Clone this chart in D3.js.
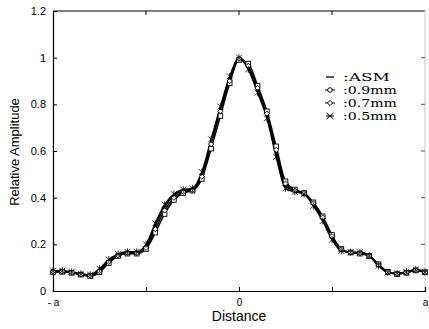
<!DOCTYPE html>
<meta charset="utf-8">
<script src="https://d3js.org/d3.v7.min.js"></script>
<style>
  body { margin: 0; background: #fff; }
  .tick text { font-family: "Liberation Sans", Arial, sans-serif; font-size: 11px; fill: #000; }
  .legend text { font-family: "DejaVu Serif", "Liberation Serif", serif; font-size: 11px; }
</style>
<body>
<div id="my_dataviz"></div>
<script>
// distance in units of a
var xs = [-1.0, -0.95, -0.9, -0.85, -0.8, -0.75, -0.7, -0.65, -0.6, -0.55, -0.5,
          -0.45, -0.4, -0.35, -0.3, -0.25, -0.2, -0.15, -0.1, -0.05, 0,
          0.05, 0.1, 0.15, 0.2, 0.25, 0.3, 0.35, 0.4, 0.45, 0.5,
          0.55, 0.6, 0.65, 0.7, 0.75, 0.8, 0.85, 0.9, 0.95, 1.0];
var asm   = [0.085, 0.085, 0.08, 0.072, 0.068, 0.09, 0.13, 0.155, 0.165, 0.165, 0.19,
             0.28, 0.36, 0.41, 0.43, 0.435, 0.50, 0.64, 0.78, 0.91, 1.0,
             0.96, 0.86, 0.75, 0.59, 0.45, 0.43, 0.42, 0.37, 0.31, 0.23,
             0.175, 0.165, 0.165, 0.15, 0.11, 0.08, 0.075, 0.08, 0.09, 0.08];
var mm09  = [0.08, 0.082, 0.078, 0.07, 0.064, 0.08, 0.12, 0.15, 0.16, 0.16, 0.18,
             0.25, 0.33, 0.39, 0.42, 0.43, 0.48, 0.61, 0.75, 0.89, 0.99,
             0.975, 0.88, 0.77, 0.62, 0.47, 0.435, 0.42, 0.38, 0.32, 0.24,
             0.18, 0.165, 0.16, 0.15, 0.115, 0.082, 0.072, 0.078, 0.088, 0.08];
var mm07  = [0.083, 0.084, 0.079, 0.071, 0.066, 0.085, 0.125, 0.152, 0.163, 0.162, 0.185,
             0.265, 0.345, 0.4, 0.425, 0.432, 0.49, 0.63, 0.77, 0.9, 0.995,
             0.965, 0.87, 0.76, 0.605, 0.46, 0.43, 0.42, 0.375, 0.315, 0.235,
             0.178, 0.165, 0.162, 0.15, 0.112, 0.081, 0.074, 0.079, 0.089, 0.08];
var mm05  = [0.087, 0.087, 0.082, 0.074, 0.07, 0.095, 0.135, 0.158, 0.168, 0.168, 0.2,
             0.29, 0.37, 0.415, 0.435, 0.44, 0.51, 0.65, 0.79, 0.92, 1.0,
             0.95, 0.85, 0.74, 0.575, 0.44, 0.425, 0.415, 0.365, 0.3, 0.22,
             0.172, 0.166, 0.166, 0.152, 0.108, 0.079, 0.076, 0.082, 0.092, 0.082];
var yTicks = [0, 0.2, 0.4, 0.6, 0.8, 1, 1.2];
var xTicks = [-1, -0.5, 0, 0.5, 1];
var xTickLabels = ["- a", "", "0", "", "a"];
var legendLabels = [":ASM", ":0.9mm", ":0.7mm", ":0.5mm"];

var W = 429, H = 329;
var svg = d3.select("#my_dataviz").append("svg").attr("width", W).attr("height", H);

var x = d3.scaleLinear().domain([-1, 1]).range([53, 425]);
var y = d3.scaleLinear().domain([0, 1.2]).range([291, 11]);

// frame
svg.append("line").attr("x1", 53).attr("x2", 425).attr("y1", 11).attr("y2", 11).attr("stroke", "#000").attr("stroke-width", 1.2);
svg.append("line").attr("x1", 425).attr("x2", 425).attr("y1", 11).attr("y2", 291).attr("stroke", "#bbb").attr("stroke-width", 0.8);

var yAxis = svg.append("g").attr("transform", "translate(53,0)")
  .call(d3.axisLeft(y).tickValues(yTicks).tickSize(-4).tickPadding(7)
    .tickFormat(function(d) { return d === 0 ? "0" : d === 1 ? "1" : d3.format(".1f")(d); }));
yAxis.select(".domain").attr("stroke-width", 1.2);

var xAxis = svg.append("g").attr("transform", "translate(0,291)")
  .call(d3.axisBottom(x).tickValues(xTicks).tickSize(-4).tickPadding(8)
    .tickFormat(function(d, i) { return xTickLabels[i]; }));
xAxis.select(".domain").attr("stroke-width", 1.2);
xAxis.selectAll(".tick text").style("font-size", "10px");

// top and right ticks
svg.selectAll(".ttick").data(xTicks.slice(1, 4)).enter().append("line")
  .attr("x1", d => x(d)).attr("x2", d => x(d)).attr("y1", 11).attr("y2", 15).attr("stroke", "#000");
svg.selectAll(".rtick").data(yTicks.slice(1, 6)).enter().append("line")
  .attr("x1", 421).attr("x2", 425).attr("y1", d => y(d)).attr("y2", d => y(d)).attr("stroke", "#555");

// labels
svg.append("text").attr("transform", "translate(19,152) rotate(-90)")
  .attr("text-anchor", "middle").style("font-family", "Liberation Sans, Arial, sans-serif").style("font-size", "13px")
  .text("Relative Amplitude");
svg.append("text").attr("x", 239).attr("y", 321).attr("text-anchor", "middle")
  .style("font-family", "Liberation Sans, Arial, sans-serif").style("font-size", "14px")
  .text("Distance");

function pts(s) { return xs.map((v, i) => [v, s[i]]); }
var line = d3.line().x(d => x(d[0])).y(d => y(d[1])).curve(d3.curveMonotoneX);
[asm, mm09, mm07, mm05].forEach(function(s) {
  svg.append("path").datum(pts(s)).attr("d", line).attr("fill", "none")
    .attr("stroke", "#000").attr("stroke-width", 1.5);
});

// 0.9mm squares
svg.selectAll(".sq").data(pts(mm09)).enter().append("rect")
  .attr("x", d => x(d[0]) - 2.3).attr("y", d => y(d[1]) - 2.3).attr("width", 4.6).attr("height", 4.6)
  .attr("fill", "#fff").attr("stroke", "#000").attr("stroke-width", 0.9);
// 0.7mm diamonds
svg.selectAll(".dm").data(pts(mm07)).enter().append("path")
  .attr("transform", d => "translate(" + x(d[0]) + "," + y(d[1]) + ")")
  .attr("d", "M0,-2.6L2.6,0L0,2.6L-2.6,0Z").attr("fill", "#fff").attr("stroke", "#000").attr("stroke-width", 0.9);
// 0.5mm stars
svg.selectAll(".st").data(pts(mm05)).enter().append("path")
  .attr("transform", d => "translate(" + x(d[0]) + "," + y(d[1]) + ")")
  .attr("d", "M-3,-3L3,3M-3,3L3,-3M0,-3.5L0,3.5").attr("stroke", "#000").attr("stroke-width", 0.8);

// legend
var lg = svg.append("g").attr("class", "legend");
var ly = [77, 90, 103, 116];
var lw = [47, 54, 54, 54];
legendLabels.forEach(function(t, i) {
  var g = lg.append("g").attr("transform", "translate(330," + ly[i] + ")");
  if (i === 0) g.append("line").attr("x1", -4).attr("x2", 4).attr("stroke", "#000").attr("stroke-width", 1.3);
  if (i === 1 || i === 2) {
    g.append("line").attr("x1", -5).attr("x2", 5).attr("stroke", "#000");
    if (i === 1) g.append("circle").attr("r", 2.3).attr("fill", "#fff").attr("stroke", "#000");
    else g.append("path").attr("d", "M0,-2.6L2.6,0L0,2.6L-2.6,0Z").attr("fill", "#fff").attr("stroke", "#000");
  }
  if (i === 3) g.append("path").attr("d", "M-3.5,-3L3.5,3M-3.5,3L3.5,-3M-4,0L4,0").attr("stroke", "#000");
  g.append("text").attr("x", 13).attr("y", 4).attr("textLength", lw[i])
    .attr("lengthAdjust", "spacingAndGlyphs").text(t);
});
</script>
</body>
